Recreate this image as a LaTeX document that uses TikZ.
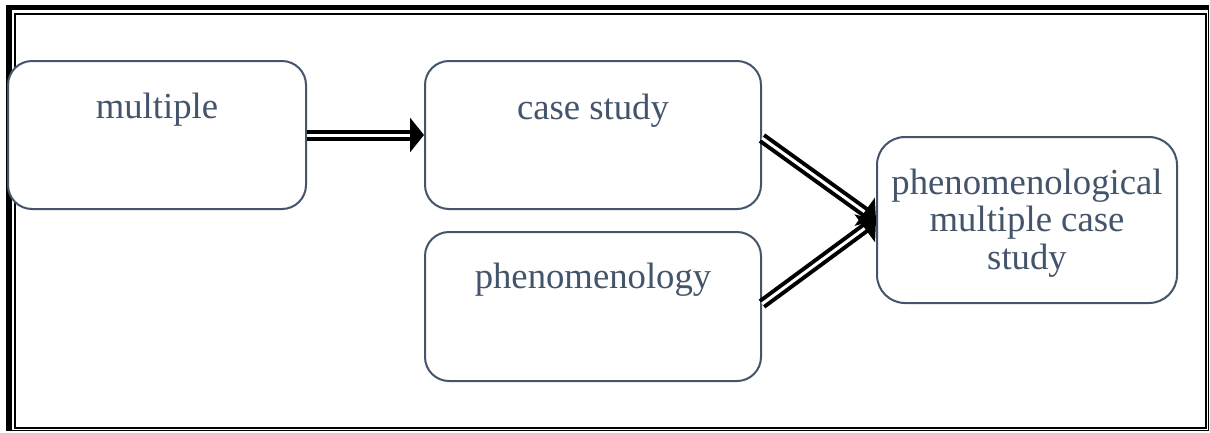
\documentclass[tikz,border=0pt]{standalone}
\usepackage{fontspec}
\setmainfont{Liberation Serif}
\usetikzlibrary{arrows.meta}
\definecolor{slate}{RGB}{68,84,106}
\begin{document}
\begin{tikzpicture}[x=1pt,y=-1pt,
  card/.style={draw=slate, fill=white, line width=2pt, rounded corners=24pt, text=slate,
    inner sep=0pt, font=\fontsize{36.7}{37.5}\selectfont},
  link/.style={draw=black, double=white, line width=4pt, double distance=3pt,
    -{Triangle[length=14pt,width=34pt]}},
  ]
\useasboundingbox (0,0) rectangle (1210,432);

% thick-thin page border
\draw[line width=2pt] (15,14) rectangle (1206,427.7);
\fill (6,5) rectangle (12,431.3);
\fill (6,5) rectangle (1209.3,10);
\draw[line width=1.4pt] (1208.7,5) -- (1208.7,431.3);
\draw[line width=1.4pt] (6,430.7) -- (1209.3,430.7);

% boxes
\node[card, anchor=north west, minimum width=298pt, text height=57pt, text depth=91pt]
  (multiple) at (7,60) {multiple};
\node[card, anchor=north west, minimum width=336pt, text height=58pt, text depth=90pt]
  (case) at (424,60) {case study};
\node[card, anchor=north west, minimum width=336pt, text height=56pt, text depth=93pt]
  (pheno) at (424,231) {phenomenology};
\node[card, rounded corners=28pt, align=center, minimum width=300pt, minimum height=166pt]
  (phen) at (1027,220) {\rule{0pt}{31pt}phenomenological\\multiple case\\study};

% connectors
\draw[link] (multiple.east) -- (case.west);
\draw[link] ([yshift=-3pt]case.east) -- (phen.west);
\draw[link] ([yshift=2.5pt]pheno.east) -- (phen.west);
\end{tikzpicture}
\end{document}
